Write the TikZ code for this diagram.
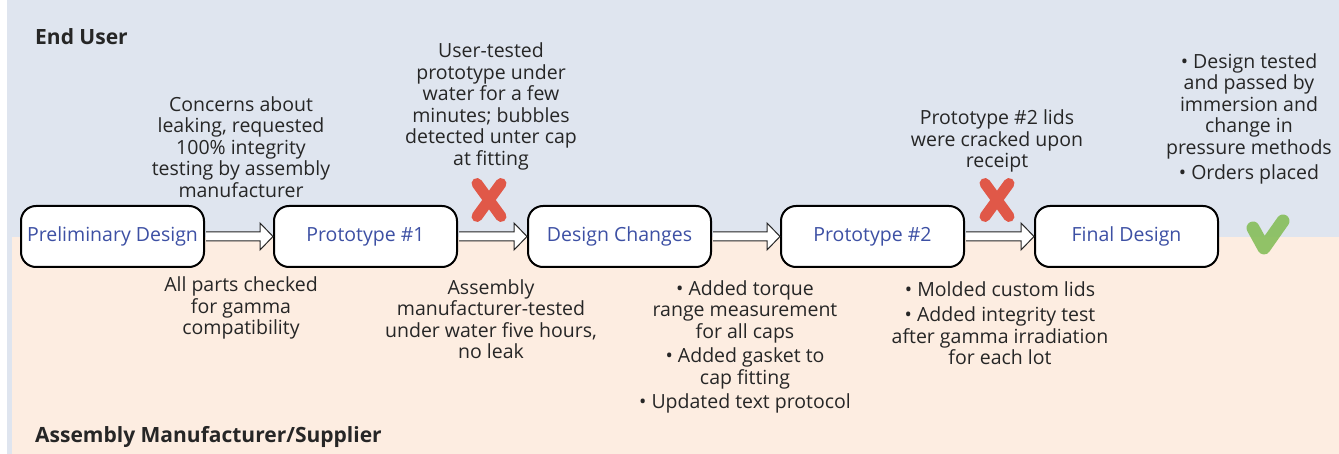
\documentclass[tikz,border=0pt]{standalone}
\usepackage{fontspec}
\setmainfont{Open Sans}
\usepackage{xcolor}
\definecolor{userbg}{RGB}{223,229,239}
\definecolor{supbg}{RGB}{253,237,225}
\definecolor{labelblue}{RGB}{61,80,164}
\definecolor{bodytext}{RGB}{38,38,38}
\definecolor{failred}{RGB}{224,88,72}
\definecolor{passgreen}{RGB}{134,190,90}
\usetikzlibrary{calc, positioning}

\begin{document}
\begin{tikzpicture}[x=1pt, y=-1pt,
      stage/.style={rectangle, rounded corners=15pt, draw=black, line width=2pt, fill=white, text=labelblue, font=\fontsize{19.5}{22}\selectfont, minimum width=183pt, minimum height=61pt},
      note/.style={align=center, text=bodytext, font=\fontsize{19.5}{21.5}\selectfont, inner sep=0pt},
      lane/.style={anchor=west, text=bodytext, font=\fontsize{21}{24}\selectfont\bfseries, inner sep=0pt},
      fat/.style={draw=black!85, line width=1pt, fill=white,
        to path={($(\tikztostart)+(1,-4.5)$) -- ($(\tikztotarget)+(-13,-4.5)$) -- ($(\tikztotarget)+(-13,-13.5)$) -- (\tikztotarget) -- ($(\tikztotarget)+(-13,13.5)$) -- ($(\tikztotarget)+(-13,4.5)$) -- ($(\tikztostart)+(1,4.5)$)}},
      fail/.style={draw=failred, line width=11pt, line cap=round},
      pass/.style={draw=passgreen, opacity=0.9, line width=13pt, line cap=round, line join=round}
  ]
    \useasboundingbox (0,0) rectangle (1339,454);
    % Lanes
    \fill[userbg] (7,0) rectangle (1339,454);
    \fill[supbg] (12,237) rectangle (1339,454);
    \node[lane] (user) at (35,37) {End User};
    \node[lane] (supplier) at (35,437) {Assembly Manufacturer/Supplier};

    % Stages
    \node[stage] (prelim) at (112.5,236.5) {Preliminary Design};
    \node[stage] (proto1) at (365.5,236.5) {Prototype \#1};
    \node[stage] (changes) at (619.5,236.5) {Design Changes};
    \node[stage] (proto2) at (872.5,236.5) {Prototype \#2};
    \node[stage] (final) at (1126.5,236.5) {Final Design};

    % Connections
    \filldraw[fat] (prelim.east) to (proto1.west);
    \filldraw[fat] (proto1.east) to (changes.west);
    \filldraw[fat] (changes.east) to (proto2.west);
    \filldraw[fat] (proto2.east) to (final.west);

    % End user notes
    \node[note] (concerns) at (241,147) {Concerns about\\leaking, requested\\100\% integrity\\testing by assembly\\manufacturer};
    \node[note] (usertest) at (491,106.5) {User-tested\\prototype under\\water for a few\\minutes; bubbles\\detected unter cap\\at fitting};
    \node[note] (cracked) at (997,141) {Prototype \#2 lids\\were cracked upon\\receipt};
    \node[note] (passed) at (1249,119) {• Design tested\\and passed by\\immersion and\\change in\\pressure methods\\[4pt]• Orders placed};

    % Supplier notes
    \node[note] (gamma) at (241,308) {All parts checked\\for gamma\\compatibility};
    \node[note] (fivehours) at (491,319) {Assembly\\manufacturer-tested\\under water five hours,\\no leak};
    \node[note] (added) at (745,347) {• Added torque\\range measurement\\for all caps\\[3pt]• Added gasket to\\cap fitting\\[3pt]• Updated text protocol};
    \node[note] (molded) at (1000,323) {• Molded custom lids\\[4pt]• Added integrity test\\after gamma irradiation\\for each lot};

    % Marks
    \coordinate (x1) at (489,200);
    \coordinate (x2) at (997,200);
    \coordinate (ok) at (1267,235);
    \draw[fail] ($(x1)+(-12,-16.5)$) -- ($(x1)+(12,16.5)$);
    \draw[fail] ($(x1)+(12,-16.5)$) -- ($(x1)+(-12,16.5)$);
    \draw[fail] ($(x2)+(-12,-16.5)$) -- ($(x2)+(12,16.5)$);
    \draw[fail] ($(x2)+(12,-16.5)$) -- ($(x2)+(-12,16.5)$);
    \draw[pass] ($(ok)+(-14,-7)$) -- ($(ok)+(-3,13)$) -- ($(ok)+(16,-14)$);
  \end{tikzpicture}
\end{document}
